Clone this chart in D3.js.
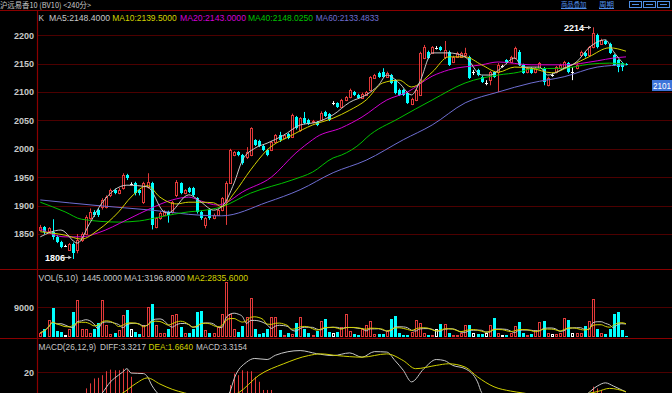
<!DOCTYPE html>
<html><head><meta charset="utf-8">
<script src="https://cdn.jsdelivr.net/npm/d3@7/dist/d3.min.js"></script>
<style>html,body{margin:0;padding:0;background:#000;overflow:hidden}svg{display:block}</style>
</head><body><svg id="c" width="672" height="393"></svg>
<script>
// ---------- DATA ----------
const open=[1857,1862,1855,1853,1845,1836,1829,1822,1833,1822,1839,1850,1878,1889,1892,1897,1897,1918,1927,1922,
1931,1954,1938,1939,1927,1906,1933,1940,1862,1878,1884,1889,1889,1918,1939,1922,1931,1931,1913,1889,
1866,1892,1878,1884,1892,1910,1940,1989,1994,1989,1985,1989,2015,2014,2005,1998,1998,2012,2024,2019,
2026,2021,2056,2033,2054,2051,2047,2047,2051,2065,2061,2080,2080,2074,2086,2091,2100,2095,2090,2095,
2104,2125,2134,2135,2127,2130,2121,2104,2104,2098,2079,2086,2095,2160,2171,2169,2178,2179,2162,2171,
2153,2162,2162,2165,2162,2135,2139,2127,2116,2121,2135,2135,2146,2156,2153,2160,2171,2148,2135,2142,
2135,2142,2142,2112,2130,2135,2142,2144,2151,2135,2142,2165,2169,2165,2179,2200,2185,2190,2185,2165,
2156,2151,2149];
const close=[1862,1853,1860,1845,1836,1827,1829,1832,1816,1839,1850,1880,1889,1884,1884,1910,1915,1927,1922,1927,
1954,1949,1938,1922,1922,1939,1941,1866,1878,1887,1889,1884,1906,1941,1922,1927,1924,1918,1889,1878,
1878,1878,1884,1892,1913,1940,1998,1994,1989,1975,1994,2036,2007,2005,1998,1989,2012,2024,2015,2024,
2019,2059,2036,2054,2045,2044,2049,2042,2063,2058,2051,2080,2074,2086,2091,2104,2095,2090,2097,2100,
2126,2130,2127,2127,2134,2116,2098,2095,2095,2081,2088,2104,2169,2180,2160,2179,2178,2174,2174,2148,
2162,2169,2169,2169,2125,2135,2130,2118,2116,2135,2127,2148,2146,2151,2162,2178,2148,2134,2142,2134,
2142,2151,2118,2125,2130,2144,2148,2153,2135,2135,2148,2171,2163,2179,2204,2179,2192,2185,2169,2148,
2144,2144,2148];
const high=[1866,1864,1862,1876,1848,1838,1831,1834,1835,1850,1853,1883,1895,1892,1895,1913,1918,1930,1930,1931,
1957,1956,1941,1942,1929,1942,1957,1942,1880,1890,1892,1891,1908,1945,1941,1929,1933,1933,1915,1891,
1880,1895,1886,1894,1915,1943,2000,1996,1996,1991,2003,2038,2017,2016,2007,2000,2014,2026,2030,2026,
2028,2062,2058,2056,2065,2053,2051,2049,2066,2067,2063,2084,2082,2088,2093,2106,2102,2097,2099,2102,
2128,2132,2136,2142,2136,2132,2123,2106,2106,2100,2090,2106,2171,2183,2173,2181,2181,2181,2190,2173,
2164,2171,2171,2178,2164,2139,2141,2129,2121,2137,2137,2151,2148,2158,2164,2180,2174,2150,2144,2144,
2144,2153,2144,2127,2133,2146,2150,2155,2153,2144,2150,2173,2171,2181,2214,2203,2194,2192,2187,2167,
2158,2153,2151];
const low=[1855,1850,1852,1840,1834,1825,1827,1820,1806,1816,1836,1848,1875,1880,1880,1893,1895,1915,1920,1920,
1928,1945,1936,1918,1918,1903,1930,1858,1860,1875,1882,1870,1886,1915,1920,1920,1922,1915,1886,1875,
1860,1875,1876,1882,1890,1866,1938,1987,1987,1972,1982,1987,2005,2003,1996,1987,1996,2010,2012,2017,
2017,2019,2034,2030,2043,2042,2045,2040,2049,2056,2049,2077,2072,2072,2084,2089,2093,2088,2088,2093,
2102,2123,2125,2125,2125,2114,2096,2093,2093,2079,2077,2084,2093,2158,2158,2167,2175,2172,2158,2146,
2151,2160,2160,2160,2123,2130,2128,2116,2112,2112,2125,2100,2143,2149,2151,2158,2146,2132,2133,2132,
2133,2140,2112,2110,2127,2133,2140,2142,2133,2121,2140,2163,2161,2163,2177,2177,2183,2183,2167,2146,
2135,2137,2147];
const volume=[1200,2500,5200,8900,1800,1500,500,2500,7500,11200,2500,2300,1000,2500,4200,11200,3700,700,1000,2000,
6500,8200,2500,1500,700,3700,9000,10000,3500,1000,1000,2500,6700,7000,3000,1000,1000,2500,7500,8000,
2000,1000,1000,3000,6800,16700,7000,2500,1500,3200,6000,11700,2500,700,1000,2500,6000,6000,2000,500,
1000,700,4300,6000,2500,1000,500,1700,4800,5500,1500,1000,1500,3000,7000,1700,700,500,2500,3500,
4800,700,700,700,1700,5500,6300,1000,500,500,1500,5200,4200,1000,500,500,2500,4000,4000,1000,
500,500,1000,3700,3500,1200,700,700,1000,3500,5700,1000,500,500,1000,3200,4500,1000,500,700,
2200,4500,4700,1200,700,700,1000,5700,5000,1000,1000,1000,3200,4700,11500,2500,1000,700,2500,7000,
7500,2200,300];
// moving-average lines at candle indices
const ma5Idx=[0,5,9,12,15,21,26,30,31,36,39,42,44,47,49,52,55,59,63,67,71,75,79,82,84,87,90,92,95,99,103,107,109,112,115,117,121,123,127,130,133,137,139,141];
const ma5=[1845,1857,1834,1869,1905,1936,1933,1889,1887,1919,1906,1892,1898,1940,1980,2001,2010,2024,2042,2047,2060,2082,2095,2112,2130,2116,2095,2118,2169,2169,2162,2130,2130,2144,2160,2144,2144,2130,2142,2153,2178,2192,2171,2153];
const ma10Idx=[0,6,10,14,19,22,26,29,33,36,39,42,44,47,51,55,61,66,71,75,79,83,87,90,95,99,103,107,111,115,119,124,129,133,138,142];
const ma10=[1854,1848,1841,1857,1889,1915,1935,1915,1903,1906,1906,1905,1898,1922,1963,1998,2024,2042,2054,2068,2086,2116,2121,2109,2135,2162,2162,2148,2135,2144,2142,2134,2148,2162,2178,2172];
const ma20Idx=[0,6,10,14,21,27,32,36,39,43,45,49,56,62,66,67,73,78,84,89,95,99,107,111,119,127,135,139,142];
const ma20=[1859,1845,1845,1852,1875,1896,1910,1915,1908,1901,1905,1924,1950,1993,2016,2021,2037,2056,2086,2100,2128,2139,2148,2153,2148,2148,2155,2160,2162];
const ma40Idx=[0,6,10,19,24,29,36,39,44,51,61,66,71,73,78,79,87,95,103,111,116,119,127,133,138,142];
const ma40=[1906,1889,1876,1871,1873,1880,1889,1891,1898,1922,1945,1959,1984,1989,2012,2019,2054,2086,2116,2130,2135,2141,2142,2149,2151,2149];
const ma60Idx=[0,14,27,39,44,55,63,71,79,88,95,103,111,119,127,135,142];
const ma60=[1910,1900,1892,1883,1882,1906,1928,1958,1980,2016,2042,2081,2100,2116,2127,2144,2148];
// MACD lines
const diffIdx=[0,10,15,17,18,20,21,22,25,26,27,29,32,38,44,46,47,50,52,55,57,63,67,71,75,78,81,84,86,88,90,93,96,98,100,103,106,107,110,118,126,132,135,137,139,142];
const diff=[-18,-12,0.5,11,14.5,20.3,23.4,19.3,18.8,15.7,8,-2,-10,-12,-6,2,14,29.5,33,32,36,40.4,37.5,35.7,38.2,34.2,39.4,39,31,21.9,11,23.4,32,31,26.5,23.4,11,1,-8,-15,-10,-2,7,10.1,7,1.5];
const deaIdx=[0,15,18,20,23,26,29,32,35,39,44,46,48,53,59,65,68,72,78,84,88,91,96,99,103,106,110,114,117,124,131,135,138,142];
const dea=[-15,-6,-3,0.6,9,14.7,9,4,0.6,-3,-5,-3,0.6,17.2,28,35.7,37.3,35.7,34.2,37.3,31,23.4,26.5,28,24.9,15.7,6.4,2.4,0.6,-3,-1,1.8,4.9,1.8];
const macdHist=[-6,-7,-8,-7,-6,-5,-4,-3,-2,-1,0,4.9,9.6,14.2,14.8,17.3,21,22.5,21.9,21.9,23.4,21.9,15.8,0,0,0,0,0,0,0,
0,0,0,0,0,0,0,0,0,0,0,0,0,0,0,0,8,18.8,17.3,21.9,21,21,15.8,11.1,3.4,3.4,3.4,0,0,0,
0,0,0,0,0,0,0,0,0,0,0,0,0,0,0,0,0,0,0,0,0,0,0,0,0,0,0,0,0,0,0,0,0,0,0,0,0,0,0,0,
0,0,0,0,0,0,0,0,0,0,0,0,0,0,0,0,0,0,0,0,0,0,0,0,0,0,0,0,0,0,0,0,0,0,6.5,4.9,3.4,0,0,0,
0,0,0];
const priceTicks=[1850,1900,1950,2000,2050,2100,2150,2200];
const volTicks=[9000];
const macdTicks=[20];

// ---------- DRAW ----------
const W=672,H=393,N=open.length;
const svg=d3.select('#c');
const FONT='"Liberation Sans",Arial,sans-serif';
const RED='#e23a3a',CYAN='#00ffff',GRID='#4d0000',SEP='#8a0000';
const C5='#c8c8c8',C10='#d2d200',C20='#d200d2',C40='#00c000',C60='#6e6ed2';
svg.append('rect').attr('width',W).attr('height',H).attr('fill','#000');

const x=d3.scaleLinear().domain([0,N-1]).range([40.3,626]);
const yP=d3.scaleLinear().domain([1850,2200]).range([234,35.3]);
const yV=d3.scaleLinear().domain([0,9000]).range([336.7,307.3]);
const yM=d3.scaleLinear().domain([0,20]).range([393.6,372.3]);

const defs=svg.append('defs');
function clip(id,y0,y1){defs.append('clipPath').attr('id',id).append('rect').attr('x',38).attr('y',y0).attr('width',W-38).attr('height',y1-y0);return 'url(#'+id+')';}
const cpP=clip('cp',11,268.5),cpV=clip('cv',270,337.5),cpM=clip('cm',339,H);

function axis(scale,ticks){
  const g=svg.append('g').attr('transform','translate(37,0)')
    .call(d3.axisLeft(scale).tickValues(ticks).tickSize(-(W-37)).tickPadding(3).tickFormat(d3.format('d')));
  g.select('.domain').remove();
  g.selectAll('line').attr('stroke',GRID).attr('shape-rendering','crispEdges');
  g.selectAll('text').attr('fill','#c8c8c8').attr('font-family',FONT).attr('font-size',9).attr('font-weight','bold');
}
axis(yP,priceTicks);axis(yV,volTicks);axis(yM,macdTicks);

// separators
[[0,10.5,W,10.5],[0,269.5,W,269.5],[0,338.5,W,338.5],[37.5,10,37.5,H]].forEach(d=>
  svg.append('line').attr('x1',d[0]).attr('y1',d[1]).attr('x2',d[2]).attr('y2',d[3]).attr('stroke',SEP).attr('stroke-width',1.2));

// candles
const gP=svg.append('g').attr('clip-path',cpP);
for(let i=0;i<N;i++){
  const px=Math.round(x(i)),o=open[i],c=close[i];
  const up=c>o,doji=c===o;
  const yt=Math.round(yP(Math.max(o,c))),yb=Math.round(yP(Math.min(o,c)));
  const yh=yP(high[i]),yl=yP(low[i]);
  const col=doji?'#ffffff':(up?RED:CYAN);
  if(up){
    gP.append('line').attr('x1',px+0.5).attr('x2',px+0.5).attr('y1',yh).attr('y2',yt).attr('stroke',col);
    gP.append('line').attr('x1',px+0.5).attr('x2',px+0.5).attr('y1',yb).attr('y2',yl).attr('stroke',col);
    gP.append('rect').attr('x',px-0.5).attr('y',yt+0.5).attr('width',2).attr('height',Math.max(1,yb-yt)).attr('fill','none').attr('stroke',col).attr('shape-rendering','crispEdges');
  }else{
    gP.append('line').attr('x1',px+0.5).attr('x2',px+0.5).attr('y1',yh).attr('y2',yl).attr('stroke',col);
    if(doji) gP.append('rect').attr('x',px-1).attr('y',yt).attr('width',3).attr('height',1).attr('fill',col);
    else gP.append('rect').attr('x',px-1).attr('y',yt).attr('width',3).attr('height',Math.max(1,yb-yt)).attr('fill',col);
  }
}
function drawLine(g,idx,vals,ys,col){
  g.append('path').datum(idx.map((d,k)=>[d,vals[k]]))
   .attr('d',d3.line().x(d=>x(d[0])).y(d=>ys(d[1])).curve(d3.curveMonotoneX))
   .attr('fill','none').attr('stroke',col).attr('stroke-width',1);
}
drawLine(gP,ma60Idx,ma60,yP,C60);
drawLine(gP,ma40Idx,ma40,yP,C40);
drawLine(gP,ma20Idx,ma20,yP,C20);
drawLine(gP,ma10Idx,ma10,yP,C10);
drawLine(gP,ma5Idx,ma5,yP,C5);

// extreme labels
function mark(txt,tx,ty,ax1,ax2){
  svg.append('text').attr('x',tx).attr('y',ty).attr('fill','#ffffff').attr('font-family',FONT).attr('font-size',9).attr('font-weight','bold').text(txt);
  svg.append('line').attr('x1',ax1).attr('x2',ax2).attr('y1',ty-3.5).attr('y2',ty-3.5).attr('stroke','#c8c8c8');
  svg.append('path').attr('d',`M${ax2},${ty-3.5}l-3,-2v4z`).attr('fill','#c8c8c8');
}
mark('2214',564,31,581,x(134)-2);
mark('1806',45,261,64,x(8)-2);

// volume
const gV=svg.append('g').attr('clip-path',cpV);
for(let i=0;i<N;i++){
  const px=Math.round(x(i)),up=close[i]>open[i],doji=close[i]===open[i];
  const yt=Math.round(yV(volume[i])),yb=Math.round(yV(0));
  if(up||doji){
    gV.append('rect').attr('x',px-0.5).attr('y',yt+0.5).attr('width',2).attr('height',Math.max(1,yb-yt-1)).attr('fill','none').attr('stroke',up?RED:'#ffffff').attr('shape-rendering','crispEdges');
  }else{
    gV.append('rect').attr('x',px-1).attr('y',yt).attr('width',3).attr('height',Math.max(1,yb-yt)).attr('fill',CYAN);
  }
}
function rolling(arr,n){return arr.map((d,i)=>{const s=arr.slice(Math.max(0,i-n+1),i+1);return d3.mean(s);});}
const volIdx=d3.range(N);
drawLine(gV,volIdx,rolling(volume,5),yV,C5);
drawLine(gV,volIdx,rolling(volume,10),yV,C10);

// MACD
const gM=svg.append('g').attr('clip-path',cpM);
macdHist.forEach((v,i)=>{
  if(v===0)return;
  const px=Math.round(x(i))+0.5;
  gM.append('line').attr('x1',px).attr('x2',px).attr('y1',yM(0)).attr('y2',yM(v)).attr('stroke',v>0?RED:CYAN);
});
drawLine(gM,diffIdx,diff,yM,C5);
drawLine(gM,deaIdx,dea,yM,C10);

// legends
function txt(s,x0,x1,y,col,size){
  svg.append('text').attr('x',x0).attr('y',y).attr('fill',col).attr('font-family',FONT).attr('font-size',size||9.5)
    .attr('textLength',x1-x0).attr('lengthAdjust','spacingAndGlyphs').text(s);
}
txt('K',38.5,44,20.5,'#c8c8c8');
txt('MA5:2148.4000',49,110,20.5,C5);
txt('MA10:2139.5000',112.3,176.7,20.5,C10);
txt('MA20:2143.0000',180,246,20.5,C20);
txt('MA40:2148.0250',248,313,20.5,C40);
txt('MA60:2133.4833',315.7,379,20.5,C60);
txt('VOL(5,10)',38.5,78,280.5,'#c8c8c8');
txt('1445.0000',82,122,280.5,'#c8c8c8');
txt('MA1:3196.8000',124,185,280.5,C5);
txt('MA2:2835.6000',187,248,280.5,C10);
txt('MACD(26,12,9)',38.5,96,349.5,'#c8c8c8');
txt('DIFF:3.3217',100,146,349.5,C5);
txt('DEA:1.6640',148.5,193,349.5,C10);
txt('MACD:3.3154',196,247,349.5,'#c8c8c8');

// header
svg.append('text').attr('x',0).attr('y',8).attr('fill','#c8c8c8').attr('font-family','"Noto Sans CJK SC",sans-serif').attr('font-size',8)
  .attr('textLength',91).attr('lengthAdjust','spacingAndGlyphs').text('沪远易香10 (BV10) <240分>');
const LINK='#4f8fe6';
[['商品叠加',561,586.5],['周期',599,614]].forEach(d=>{
  svg.append('text').attr('x',d[1]).attr('y',7).attr('fill',LINK).attr('font-family','"Noto Sans CJK SC",sans-serif').attr('font-size',7)
   .attr('textLength',d[2]-d[1]).attr('lengthAdjust','spacingAndGlyphs').text(d[0]);
  svg.append('line').attr('x1',d[1]).attr('x2',d[2]).attr('y1',8.5).attr('y2',8.5).attr('stroke',LINK);
});
[629,643,657].forEach(bx=>{
  svg.append('rect').attr('x',bx+0.5).attr('y',1.5).attr('width',12).attr('height',6).attr('fill','none').attr('stroke',LINK);
  svg.append('line').attr('x1',bx+3).attr('x2',bx+10).attr('y1',4.5).attr('y2',4.5).attr('stroke',LINK);
});
// last price tag
svg.append('rect').attr('x',652).attr('y',80).attr('width',20).attr('height',11).attr('fill','#3d74d9');
svg.append('text').attr('x',653).attr('y',89).attr('fill','#fff').attr('font-family',FONT).attr('font-size',9)
  .attr('textLength',18).attr('lengthAdjust','spacingAndGlyphs').text('2101');
</script></body></html>
